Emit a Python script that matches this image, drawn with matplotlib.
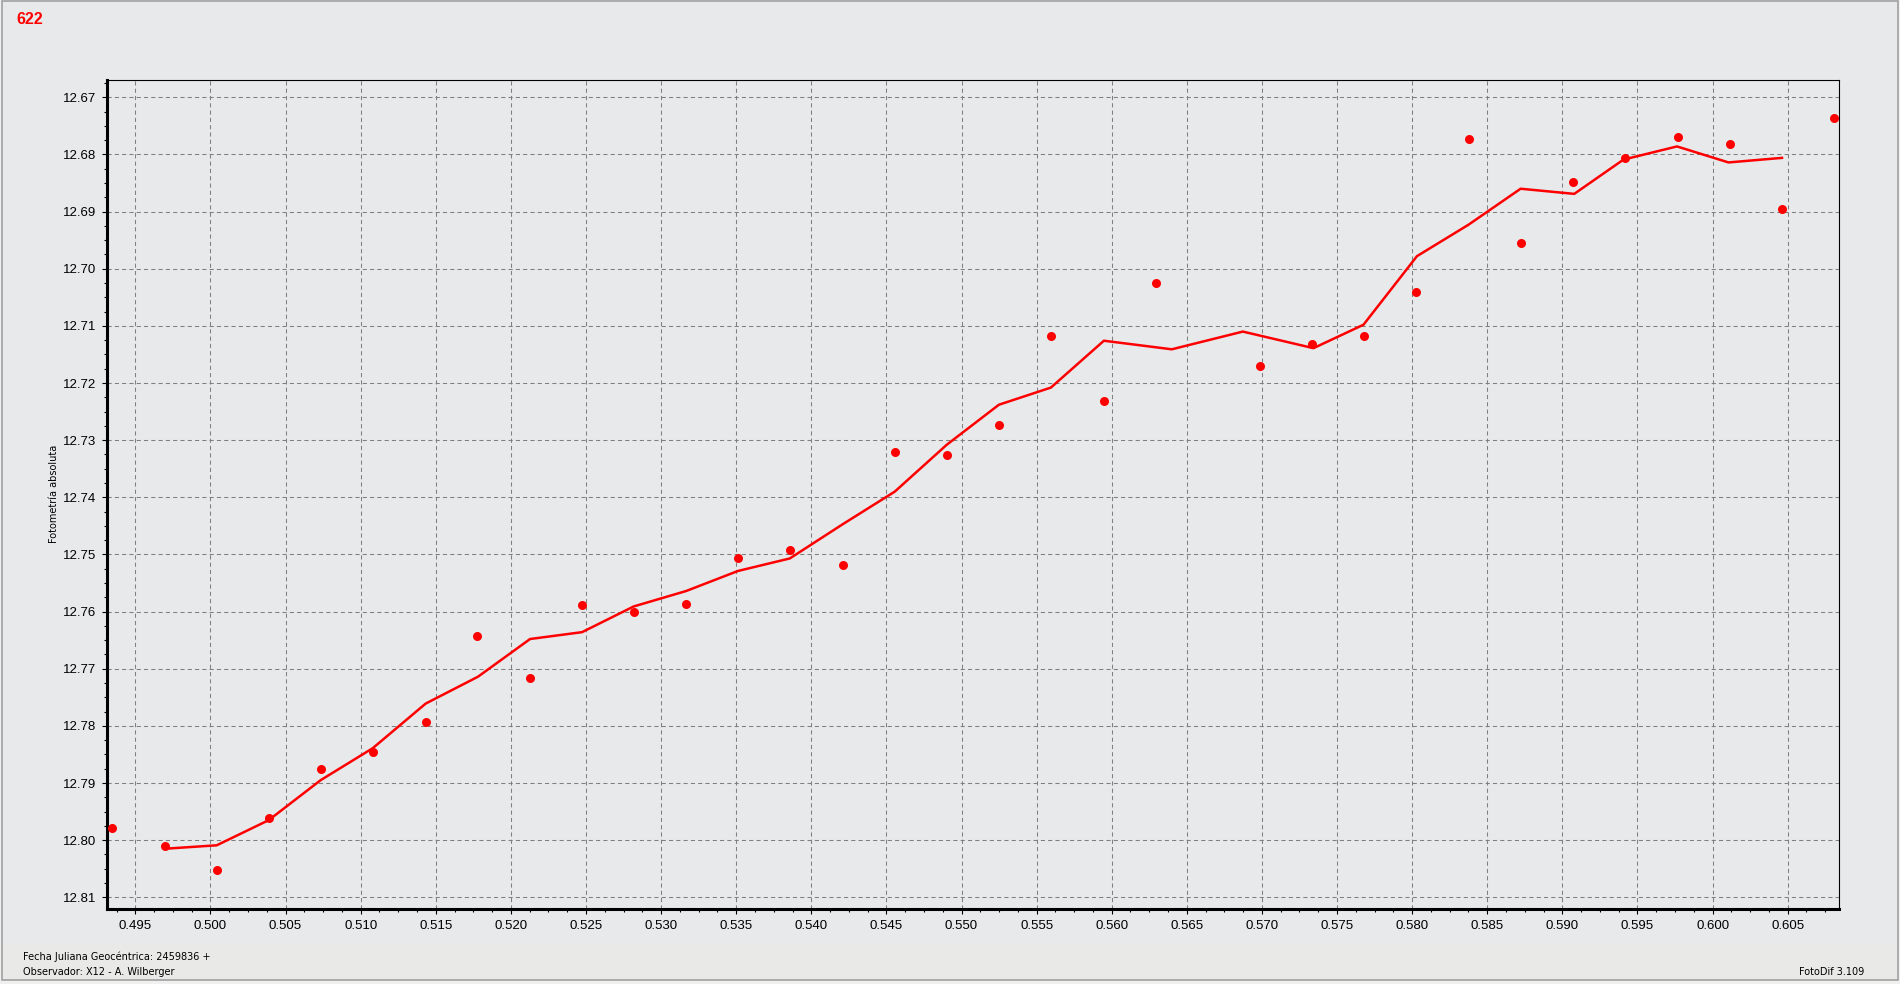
import matplotlib.pyplot as plt
from matplotlib.ticker import MultipleLocator, FormatStrFormatter
from matplotlib.patches import Rectangle

# observaciones (fecha juliana - 2459836, magnitud)
jd_obs = [0.49343, 0.49698, 0.50042, 0.50388, 0.50734, 0.51081, 0.51433, 0.51777,
          0.52128, 0.52474, 0.52818, 0.53167, 0.53511, 0.53857, 0.54210, 0.54556,
          0.54902, 0.55249, 0.55595, 0.55948, 0.56296, 0.56989, 0.57333, 0.57679,
          0.58025, 0.58378, 0.58724, 0.59070, 0.59414, 0.59769, 0.60116, 0.60462,
          0.60809]
mag_obs = [12.7978, 12.8011, 12.8053, 12.7961, 12.7875, 12.7845, 12.7793, 12.7642,
           12.7716, 12.7588, 12.7600, 12.7587, 12.7506, 12.7492, 12.7518, 12.7321,
           12.7326, 12.7273, 12.7117, 12.7231, 12.7025, 12.7171, 12.7131, 12.7118,
           12.7041, 12.6773, 12.6955, 12.6848, 12.6806, 12.6769, 12.6781, 12.6895,
           12.6736]

# curva promediada
jd_avg = [0.49698, 0.50042, 0.50388, 0.50734, 0.51081, 0.51433, 0.51781, 0.52128,
          0.52474, 0.52818, 0.53167, 0.53511, 0.53857, 0.54210, 0.54556, 0.54902,
          0.55249, 0.55595, 0.55948, 0.56400, 0.56873, 0.57343, 0.57676, 0.58032,
          0.58375, 0.58722, 0.59079, 0.59407, 0.59763, 0.60106, 0.60462]
mag_avg = [12.8015, 12.8009, 12.7965, 12.7895, 12.7839, 12.7761, 12.7714, 12.7648,
           12.7636, 12.7591, 12.7564, 12.7529, 12.7507, 12.7447, 12.7390, 12.7308,
           12.7238, 12.7208, 12.7126, 12.7141, 12.7110, 12.7139, 12.7098, 12.6978,
           12.6923, 12.6860, 12.6869, 12.6809, 12.6786, 12.6814, 12.6806]

W, H = 1900, 984
bg = "#e8e9eb"

fig = plt.figure(figsize=(19, 9.84), dpi=100, facecolor="#f0f0f0")

# fondo de la ventana, barra inferior y borde
fig.patches.append(Rectangle((2 / W, 1 - 980 / H), 1895.7 / W, 979 / H,
                             transform=fig.transFigure, facecolor=bg,
                             edgecolor="#a0a0a0", linewidth=1.2, zorder=-3))
fig.patches.append(Rectangle((3 / W, 1 - 979 / H), 1894 / W, 34 / H,
                             transform=fig.transFigure, facecolor="#e9e9e8",
                             edgecolor="none", zorder=-2))

ax = fig.add_axes([107 / W, 1 - 908.5 / H, (1839.3 - 107) / W, (908.5 - 80.3) / H])
ax.set_facecolor(bg)

ax.plot(jd_avg, mag_avg, color="#ff0000", linewidth=1.8, zorder=3)
ax.plot(jd_obs, mag_obs, "o", color="#ff0000", markersize=6.5, markeredgewidth=0, zorder=4)

ax.set_xlim(0.493116, 0.608435)
ax.set_ylim(12.81196, 12.667025)

ax.xaxis.set_major_locator(MultipleLocator(0.005))
ax.xaxis.set_minor_locator(MultipleLocator(0.00125))
ax.yaxis.set_major_locator(MultipleLocator(0.01))
ax.yaxis.set_minor_locator(MultipleLocator(0.0025))
ax.xaxis.set_major_formatter(FormatStrFormatter("%.3f"))
ax.yaxis.set_major_formatter(FormatStrFormatter("%.2f"))

ax.grid(which="major", color="#808080", linestyle=(0, (4, 3)), linewidth=0.75)
ax.set_axisbelow(True)

for side in ["left", "bottom"]:
    ax.spines[side].set_linewidth(2.2)
for side in ["top", "right"]:
    ax.spines[side].set_linewidth(0.8)

ax.tick_params(which="major", direction="out", length=3.5, width=0.8,
               labelsize=9.5, pad=4)
ax.tick_params(which="minor", direction="out", length=2.2, width=0.8)
ax.tick_params(axis="x", which="major", pad=5)
for lab in ax.get_xticklabels() + ax.get_yticklabels():
    lab.set_fontfamily("Liberation Sans")

fig.text(54 / W, 1 - 494 / H, "Fotometría absoluta", rotation=90,
         ha="center", va="center", fontsize=7, family="DejaVu Sans")

fig.text(16 / W, 1 - 19 / H, "622", color="#ff0000", fontsize=11.5,
         fontweight="bold", family="Liberation Sans", ha="left", va="center")

fig.text(22.7 / W, 1 - 957 / H, "Fecha Juliana Geocéntrica: 2459836 +",
         fontsize=7, family="DejaVu Sans", ha="left", va="center")
fig.text(22.7 / W, 1 - 972 / H, "Observador: X12 - A. Wilberger",
         fontsize=7, family="DejaVu Sans", ha="left", va="center")
fig.text(1799 / W, 1 - 972 / H, "FotoDif 3.109",
         fontsize=7, family="DejaVu Sans", ha="left", va="center")

fig.savefig("out.png", dpi=100, facecolor=fig.get_facecolor())
